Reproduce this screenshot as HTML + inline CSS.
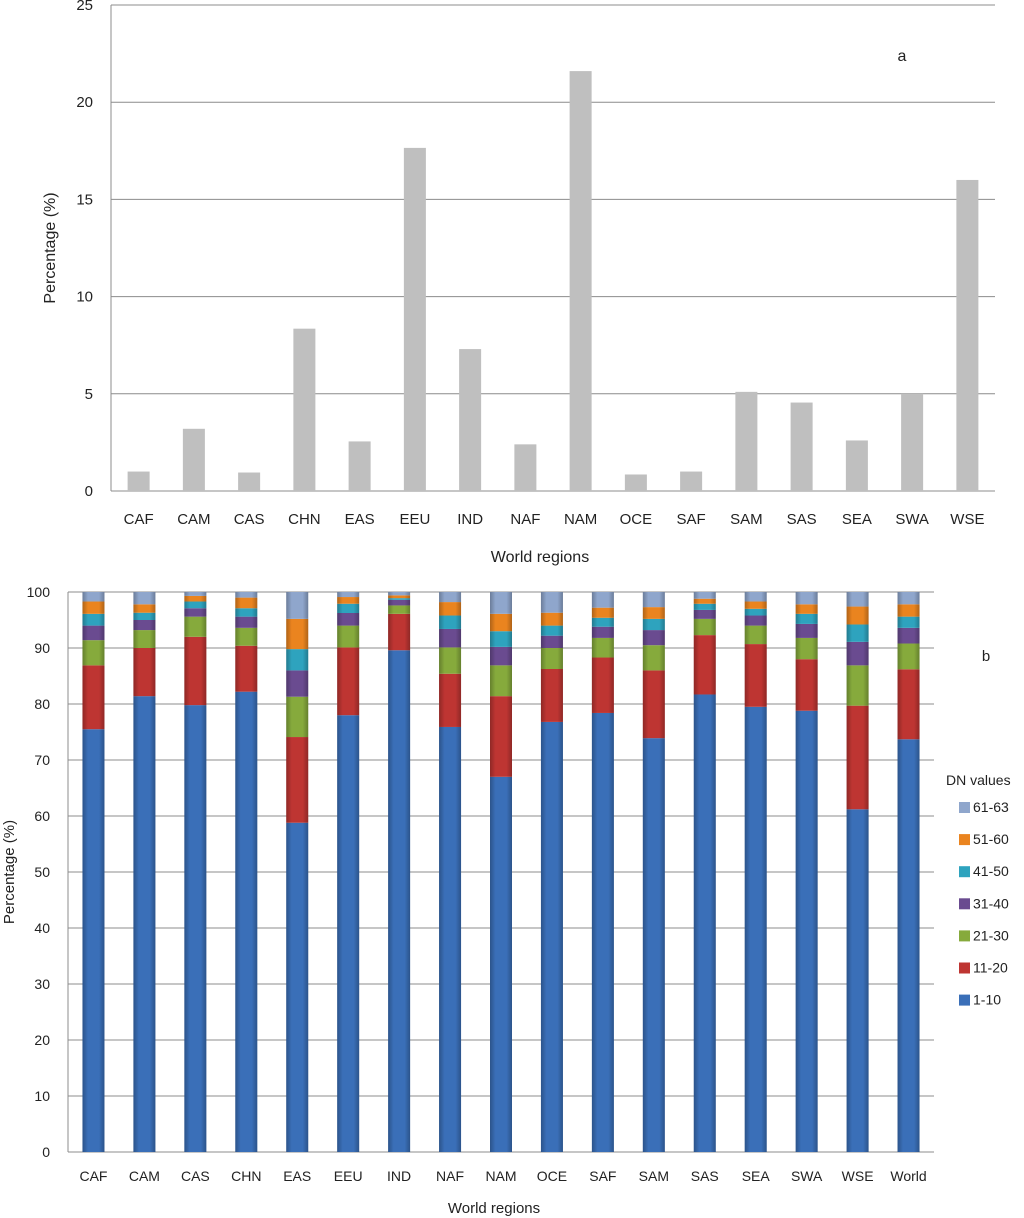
<!DOCTYPE html>
<html><head><meta charset="utf-8"><style>
body{margin:0;background:#fff;}
svg{display:block;font-family:"Liberation Sans",sans-serif;}
</style></head><body>
<svg id="chart" width="1024" height="1218" viewBox="0 0 1024 1218" xmlns="http://www.w3.org/2000/svg">
<defs>
<linearGradient id="gshade" x1="0" x2="1" y1="0" y2="0">
<stop offset="0" stop-color="#000" stop-opacity="0.25"/>
<stop offset="0.25" stop-color="#000" stop-opacity="0"/>
<stop offset="0.75" stop-color="#000" stop-opacity="0"/>
<stop offset="1" stop-color="#000" stop-opacity="0.25"/>
</linearGradient>
</defs>
</svg>
<script>
// Chart a data
const catsA = ["CAF","CAM","CAS","CHN","EAS","EEU","IND","NAF","NAM","OCE","SAF","SAM","SAS","SEA","SWA","WSE"];
const valsA = [1.0,3.2,0.95,8.35,2.55,17.65,7.3,2.4,21.6,0.85,1.0,5.1,4.55,2.6,5.0,16.0];
const ticksA = [0,5,10,15,20,25];
// Chart b data
const catsB = ["CAF","CAM","CAS","CHN","EAS","EEU","IND","NAF","NAM","OCE","SAF","SAM","SAS","SEA","SWA","WSE","World"];
const seriesNames = ["1-10","11-20","21-30","31-40","41-50","51-60","61-63"];
const s1_10  = [75.5,81.4,79.8,82.2,58.8,78.0,89.6,75.9,67.0,76.8,78.4,73.9,81.7,79.5,78.8,61.2,73.7];
const s11_20 = [11.4,8.6,12.2,8.2,15.3,12.1,6.5,9.5,14.4,9.45,9.9,12.1,10.6,11.2,9.2,18.5,12.5];
const s21_30 = [4.5,3.2,3.6,3.2,7.2,3.9,1.5,4.7,5.5,3.75,3.5,4.5,2.9,3.3,3.8,7.2,4.6];
const s31_40 = [2.6,1.8,1.5,2.0,4.7,2.25,1.0,3.3,3.3,2.2,2.0,2.7,1.6,1.8,2.5,4.2,2.8];
const s41_50 = [2.1,1.3,1.2,1.5,3.8,1.65,0.3,2.4,2.8,1.8,1.6,2.0,1.1,1.2,1.8,3.1,2.0];
const s51_60 = [2.2,1.5,1.0,1.9,5.4,1.2,0.5,2.4,3.1,2.3,1.8,2.1,0.9,1.3,1.7,3.2,2.2];
const s61_63 = [1.7,2.2,0.7,1.0,4.8,0.9,0.6,1.8,3.9,3.7,2.8,2.7,1.2,1.7,2.2,2.6,2.2];
const ticksB = [0,10,20,30,40,50,60,70,80,90,100];

const NS="http://www.w3.org/2000/svg";
const svg=document.getElementById('chart');
function mk(tag,attrs,parent){const e=document.createElementNS(NS,tag);for(const k in attrs)e.setAttribute(k,attrs[k]);(parent||svg).appendChild(e);return e;}
function txt(s,attrs,parent){const e=mk('text',attrs,parent);e.textContent=s;return e;}

// ---- Chart a ----
const A={l:111,r:995,t:5,b:491,max:25};
const yA=v=>A.b-(v/A.max)*(A.b-A.t);
const bwA=(A.r-A.l)/catsA.length;
const xA=i=>A.l+bwA*(i+0.5);
const gA=mk('g',{});


ticksA.forEach(t=>{
  const l=mk('line',{x1:A.l,x2:A.r,y1:yA(t),y2:yA(t),stroke:'#8c8c8c','stroke-width':1},gA);
  
  
  const tx=txt(String(t),{x:93,y:yA(t)+5,'text-anchor':'end','font-size':15,fill:'#222'},gA);
  
  
});
const axA=mk('line',{x1:A.l,x2:A.l,y1:A.t,y2:A.b,stroke:'#8c8c8c'},gA);


catsA.forEach((c,i)=>{
  const r=mk('rect',{x:xA(i)-11,y:yA(valsA[i]),width:22,height:A.b-yA(valsA[i]),fill:'#bfbfbf'},gA);
  
  
  const t=txt(c,{x:xA(i),y:524,'text-anchor':'middle','font-size':15,fill:'#222'},gA);
  
  
});
const xtA=txt('World regions',{x:540,y:562,'text-anchor':'middle','font-size':16,fill:'#222'},gA);


const ytA=txt('Percentage (%)',{x:0,y:0,'text-anchor':'middle','font-size':16,fill:'#222',transform:'translate(55,248) rotate(-90)'},gA);


const la=txt('a',{x:902,y:61,'text-anchor':'middle','font-size':16,fill:'#222'},gA);



// ---- Chart b ----
const B={l:68,r:934,t:592,b:1152,max:100};
const yB=v=>B.b-(v/B.max)*(B.b-B.t);
const bwB=(B.r-B.l)/catsB.length;
const xB=i=>B.l+bwB*(i+0.5);
const series=[s1_10,s11_20,s21_30,s31_40,s41_50,s51_60,s61_63];
const colors=['#3a6fb8','#be3532','#86aa3c','#6a4b90','#2ea3be','#ea841f','#8fa6cc'];
const gB=mk('g',{});


ticksB.forEach(t=>{
  const l=mk('line',{x1:B.l,x2:B.r,y1:yB(t),y2:yB(t),stroke:'#8c8c8c','stroke-width':1},gB);
  
  
  const tx=txt(String(t),{x:50,y:yB(t)+5,'text-anchor':'end','font-size':14,fill:'#222'},gB);
  
  
});
const axB=mk('line',{x1:B.l,x2:B.l,y1:B.t,y2:B.b,stroke:'#8c8c8c'},gB);


catsB.forEach((c,i)=>{
  let cum=0;
  series.forEach((s,k)=>{
    const y0=yB(cum), y1=yB(Math.min(100,cum+s[i]));
    cum+=s[i];
    const r=mk('rect',{x:xB(i)-11,y:y1,width:22,height:Math.max(0,y0-y1),fill:colors[k]},gB);
    
    
    const sh=mk('rect',{x:xB(i)-11,y:y1,width:22,height:Math.max(0,y0-y1),fill:'url(#gshade)'},gB);
    
    
  });
  const t=txt(c,{x:xB(i),y:1181,'text-anchor':'middle','font-size':14,fill:'#222'},gB);
  
  
});
const xtB=txt('World regions',{x:494,y:1213,'text-anchor':'middle','font-size':15,fill:'#222'},gB);


const ytB=txt('Percentage (%)',{x:0,y:0,'text-anchor':'middle','font-size':15,fill:'#222',transform:'translate(14,872) rotate(-90)'},gB);


const lb=txt('b',{x:986,y:661,'text-anchor':'middle','font-size':15,fill:'#222'},gB);


// legend
const lg=mk('g',{},gB);


const lt=txt('DN values',{x:946,y:785,'font-size':14,fill:'#222'},lg);


for(let k=6;k>=0;k--){
  const yy=807+(6-k)*32.1;
  const sq=mk('rect',{x:959,y:yy-5,width:11,height:11,fill:colors[k]},lg);
  
  
  const t=txt(seriesNames[k],{x:973,y:yy+5,'font-size':14,fill:'#222'},lg);
  
  
}
</script>
</body></html>
